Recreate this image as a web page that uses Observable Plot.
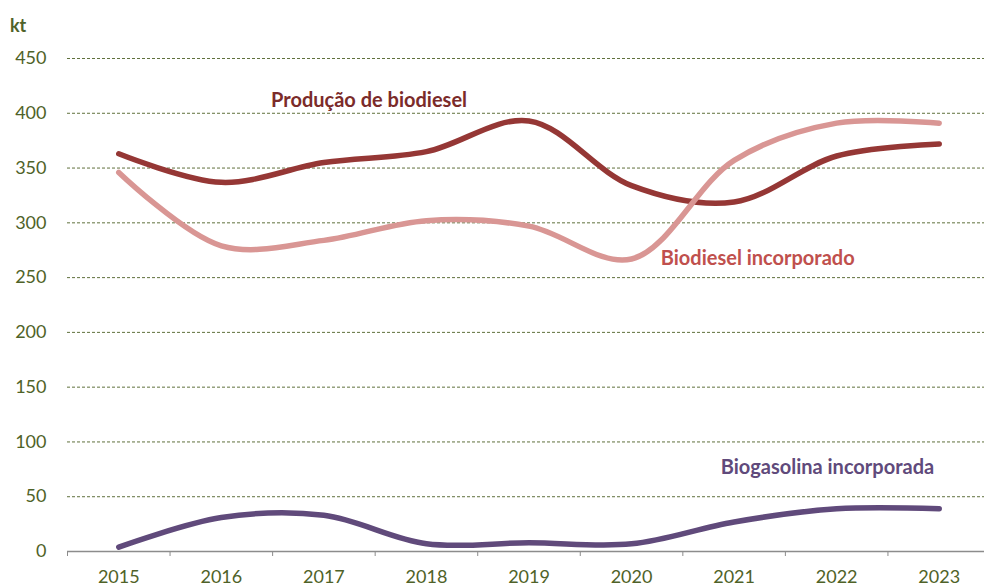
<!DOCTYPE html>
<html><head><meta charset="utf-8">
<script src="https://cdn.jsdelivr.net/npm/d3@7"></script>
<script src="https://cdn.jsdelivr.net/npm/@observablehq/plot@0.6"></script>
<style>
body{margin:0;background:#fff;}
#c{position:relative;width:984px;height:588px;}
</style>
</head><body><div id="c"></div>
<script>
const years = [2015,2016,2017,2018,2019,2020,2021,2022,2023];
const producao = [363,337,355,365,393,334,319,361,372];
const incorporado = [346,279,284,302,297,267,357,391,391];
const biogasolina = [4,31,33,7,8,7,27,39,39];
const yTicks = [0,50,100,150,200,250,300,350,400,450];
const seriesNames = ["Produção de biodiesel","Biodiesel incorporado","Biogasolina incorporada"];
const seriesColors = ["#953735","#D99694","#604A7B"];
const labelColors = ["#7B2B2A","#C0504D","#604A7B"];
const labelPos = [[2017.44,412],[2021.23,267],[2021.91,77]];

const rows = [];
[producao, incorporado, biogasolina].forEach((s,k)=>s.forEach((v,i)=>rows.push({year:years[i], value:v, series:seriesNames[k]})));
const labels = seriesNames.map((n,k)=>({name:n, x:labelPos[k][0], y:labelPos[k][1], color:labelColors[k]}));
const bounds = years.map(y=>y-0.5).concat([years[years.length-1]+0.5]);

const font = "Lato, 'Open Sans', sans-serif";
const green = "#4F6228";

const plot = Plot.plot({
  width: 984, height: 588,
  marginTop: 58, marginBottom: 37, marginLeft: 67, marginRight: 0,
  style: {fontFamily: font, fontSize: "18px", background: "#fff"},
  x: {domain: [2014.5, 2023.5], range: [67, 990]},
  y: {domain: [0, 450]},
  color: {domain: seriesNames, range: seriesColors},
  marks: [
    Plot.ruleY(yTicks.filter(d=>d>0), {stroke: green, strokeWidth: 1, strokeDasharray: "3,2", strokeOpacity: 0.9}),
    Plot.axisY({ticks: yTicks, tickSize: 0, tickPadding: 21, tickFormat: d=>String(d), fill: green, fontSize: 18, label: null}),
    Plot.axisX({ticks: bounds, tickSize: 5, tickFormat: ()=>"", stroke: "#8C8C8C", label: null}),
    Plot.axisX({ticks: years, tickSize: 0, tickPadding: 19, tickFormat: d=>String(d), fill: green, fontSize: 18, label: null}),
    Plot.ruleY([0], {stroke: "#8C8C8C", strokeWidth: 1.5}),
    Plot.line(rows, {x: "year", y: "value", z: "series", stroke: "series", strokeWidth: 5.5, curve: "catmull-rom", strokeLinecap: "round"}),
    Plot.text(labels, {x: "x", y: "y", text: "name", fill: "color", fontWeight: "bold", fontSize: 20})
  ]
});
const c = document.getElementById("c");
c.appendChild(plot);
const kt = document.createElement("div");
kt.textContent = "kt";
kt.style.cssText = `position:absolute;left:10px;top:14px;font-family:${font};font-weight:bold;font-size:18px;color:${green};`;
c.appendChild(kt);
</script>
</body></html>
